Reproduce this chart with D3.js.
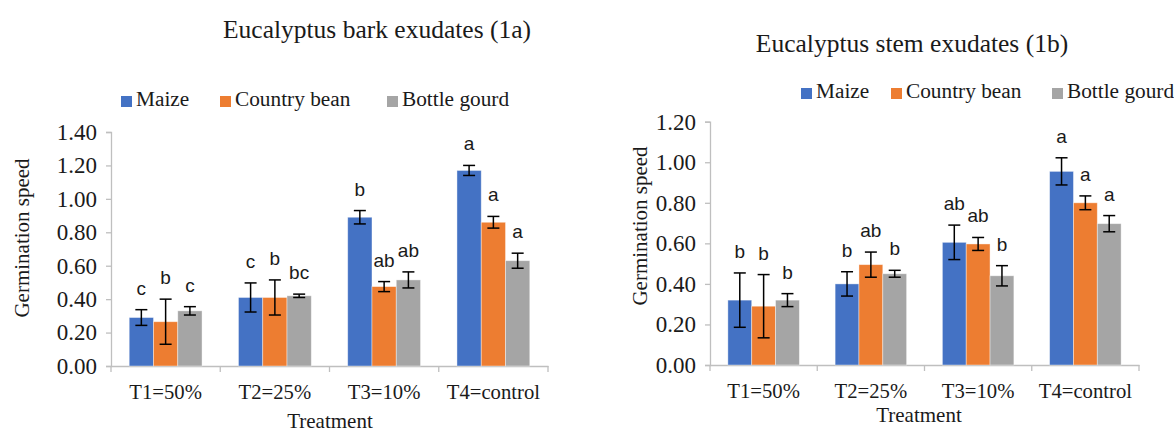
<!DOCTYPE html>
<html>
<head>
<meta charset="utf-8">
<script src="https://cdnjs.cloudflare.com/ajax/libs/d3/7.8.5/d3.min.js"></script>
<style>
    body { margin: 0; background: #fff; }
    text { fill: #1a1a1a; }
</style>
</head>
<body>
<div id="chart"></div>
<script>
var treatments = ["T1=50%", "T2=25%", "T3=10%", "T4=control"];
var crops = ["Maize", "Country bean", "Bottle gourd"];
var cropColors = ["#4472C4", "#ED7D31", "#A5A5A5"];

// Eucalyptus bark exudates (1a)
var barkMaize = [0.29, 0.41, 0.89, 1.17];
var barkBean = [0.265, 0.41, 0.475, 0.86];
var barkGourd = [0.33, 0.42, 0.515, 0.63];
var barkMaizeErr = [0.047, 0.087, 0.04, 0.03];
var barkBeanErr = [0.135, 0.105, 0.03, 0.035];
var barkGourdErr = [0.025, 0.01, 0.048, 0.045];
var barkMaizeSig = ["c", "c", "b", "a"];
var barkBeanSig = ["b", "b", "ab", "a"];
var barkGourdSig = ["c", "bc", "ab", "a"];
var barkTicks = [0, 0.2, 0.4, 0.6, 0.8, 1.0, 1.2, 1.4];

// Eucalyptus stem exudates (1b)
var stemMaize = [0.32, 0.40, 0.605, 0.955];
var stemBean = [0.29, 0.495, 0.597, 0.80];
var stemGourd = [0.32, 0.45, 0.44, 0.697];
var stemMaizeErr = [0.134, 0.06, 0.085, 0.067];
var stemBeanErr = [0.156, 0.062, 0.032, 0.034];
var stemGourdErr = [0.032, 0.017, 0.05, 0.04];
var stemMaizeSig = ["b", "b", "ab", "a"];
var stemBeanSig = ["b", "ab", "ab", "a"];
var stemGourdSig = ["b", "b", "b", "a"];
var stemTicks = [0, 0.2, 0.4, 0.6, 0.8, 1.0, 1.2];

var serif = "'Liberation Serif', 'Times New Roman', serif";
var sans = "'Liberation Sans', Arial, sans-serif";

var svg = d3.select("#chart").append("svg")
    .attr("width", 1174)
    .attr("height", 432);

function drawPanel(p) {
    var g = svg.append("g");

    var xScale = d3.scaleBand().domain(treatments).range([p.left, p.right]);
    var xInner = d3.scaleBand().domain(crops)
        .range([0, xScale.bandwidth()])
        .paddingOuter(0.75);
    var yScale = d3.scaleLinear()
        .domain([0, d3.max(p.ticks)])
        .range([p.bottom, p.top]);

    // title
    g.append("text")
        .attr("x", p.titleX).attr("y", p.titleY)
        .attr("text-anchor", "middle")
        .style("font-family", serif).style("font-size", "25.5px")
        .text(p.title);

    // legend
    var lg = g.append("g");
    crops.forEach(function(c, i) {
        lg.append("rect")
            .attr("x", p.legendX[i]).attr("y", p.legendY - 10)
            .attr("width", 11).attr("height", 11)
            .attr("fill", cropColors[i]);
        lg.append("text")
            .attr("x", p.legendX[i] + 15).attr("y", p.legendY)
            .style("font-family", serif).style("font-size", "21.3px")
            .text(c);
    });

    // y axis
    var yAxis = d3.axisLeft(yScale)
        .tickValues(p.ticks)
        .tickFormat(d3.format(".2f"))
        .tickSize(5)
        .tickPadding(9);
    var yg = g.append("g")
        .attr("transform", "translate(" + p.left + ",0)")
        .call(yAxis);
    yg.select(".domain").attr("stroke", "#bfbfbf").attr("stroke-width", 1.3);
    yg.selectAll(".tick line").attr("stroke", "#bfbfbf").attr("stroke-width", 1.3);
    yg.selectAll(".tick text")
        .style("font-family", serif).style("font-size", "23px").attr("fill", "#1a1a1a");

    // x axis
    var xAxis = d3.axisBottom(xScale).tickSize(0).tickPadding(18);
    var xg = g.append("g")
        .attr("transform", "translate(0," + p.bottom + ")")
        .call(xAxis);
    xg.select(".domain").attr("stroke", "#bfbfbf").attr("stroke-width", 1.3);
    xg.selectAll(".tick text")
        .style("font-family", serif).style("font-size", "20.7px").attr("fill", "#1a1a1a");
    var bounds = treatments.map(function(t) { return xScale(t); }).concat([p.right]);
    xg.selectAll(".bound").data(bounds).enter().append("line")
        .attr("class", "bound")
        .attr("x1", function(d) { return d; }).attr("x2", function(d) { return d; })
        .attr("y1", 0).attr("y2", 6)
        .attr("stroke", "#bfbfbf").attr("stroke-width", 1.3);

    // axis titles
    g.append("text")
        .attr("transform", "translate(" + p.yTitleX + "," + p.yTitleY + ") rotate(-90)")
        .attr("text-anchor", "middle")
        .attr("dominant-baseline", "central")
        .style("font-family", serif).style("font-size", "21px")
        .text("Germination speed");
    g.append("text")
        .attr("x", p.xTitleX).attr("y", p.xTitleY)
        .attr("text-anchor", "middle")
        .style("font-family", serif).style("font-size", "21px")
        .text("Treatment");

    // bars
    var rows = [];
    crops.forEach(function(c, i) {
        treatments.forEach(function(t, j) {
            rows.push({
                crop: c, ci: i, t: t,
                v: p.values[i][j], e: p.errors[i][j], s: p.sigs[i][j]
            });
        });
    });

    var bars = g.append("g").selectAll("g").data(rows).enter().append("g")
        .attr("transform", function(d) {
            return "translate(" + (xScale(d.t) + xInner(d.crop)) + ",0)";
        });
    var bw = xInner.bandwidth();

    bars.append("rect")
        .attr("x", 0)
        .attr("y", function(d) { return yScale(d.v); })
        .attr("width", bw)
        .attr("height", function(d) { return yScale(0) - yScale(d.v); })
        .attr("fill", function(d) { return cropColors[d.ci]; })
        .attr("stroke", "#ffffff")
        .attr("stroke-opacity", 0.5)
        .attr("stroke-width", 0.8);

    // error bars
    var cx = bw / 2, cap = 6;
    bars.append("line")
        .attr("x1", cx).attr("x2", cx)
        .attr("y1", function(d) { return yScale(d.v + d.e); })
        .attr("y2", function(d) { return yScale(d.v - d.e); })
        .attr("stroke", "#000").attr("stroke-width", 1.5);
    bars.append("line")
        .attr("x1", cx - cap).attr("x2", cx + cap)
        .attr("y1", function(d) { return yScale(d.v + d.e); })
        .attr("y2", function(d) { return yScale(d.v + d.e); })
        .attr("stroke", "#000").attr("stroke-width", 1.5);
    bars.append("line")
        .attr("x1", cx - cap).attr("x2", cx + cap)
        .attr("y1", function(d) { return yScale(d.v - d.e); })
        .attr("y2", function(d) { return yScale(d.v - d.e); })
        .attr("stroke", "#000").attr("stroke-width", 1.5);

    // significance letters
    bars.append("text")
        .attr("x", cx)
        .attr("y", function(d) { return yScale(d.v + d.e) - 15; })
        .attr("text-anchor", "middle")
        .style("font-family", sans).style("font-size", "19px")
        .text(function(d) { return d.s; });
}

drawPanel({
    title: "Eucalyptus bark exudates (1a)",
    titleX: 377, titleY: 38,
    legendX: [121, 220, 387], legendY: 106,
    left: 111, right: 548, top: 132, bottom: 366,
    ticks: barkTicks,
    yTitleX: 22, yTitleY: 238,
    xTitleX: 330, xTitleY: 428,
    values: [barkMaize, barkBean, barkGourd],
    errors: [barkMaizeErr, barkBeanErr, barkGourdErr],
    sigs: [barkMaizeSig, barkBeanSig, barkGourdSig]
});

drawPanel({
    title: "Eucalyptus stem exudates (1b)",
    titleX: 912, titleY: 52,
    legendX: [801, 891, 1052], legendY: 98,
    left: 710, right: 1139, top: 121.7, bottom: 365,
    ticks: stemTicks,
    yTitleX: 640, yTitleY: 226,
    xTitleX: 919, xTitleY: 422,
    values: [stemMaize, stemBean, stemGourd],
    errors: [stemMaizeErr, stemBeanErr, stemGourdErr],
    sigs: [stemMaizeSig, stemBeanSig, stemGourdSig]
});
</script>
</body>
</html>
